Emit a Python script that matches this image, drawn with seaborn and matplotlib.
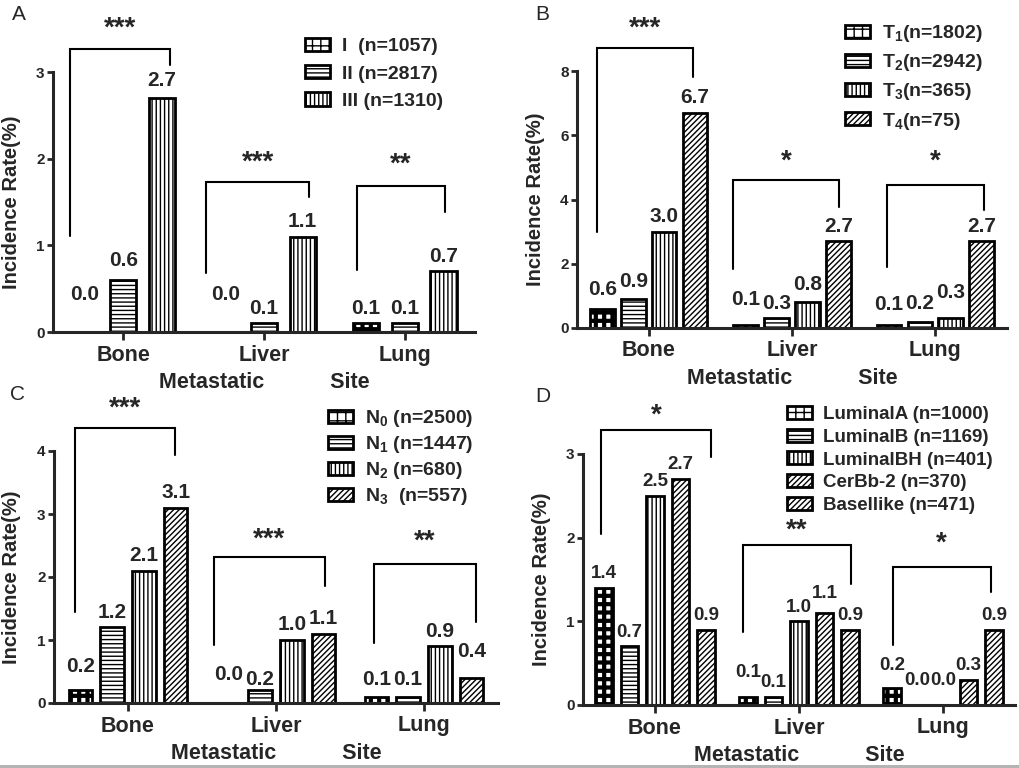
import matplotlib
matplotlib.use("Agg")
import matplotlib.pyplot as plt
import matplotlib.patches as mpatches
import seaborn as sns
import pandas as pd

# ---- data ----
sites = ["Bone", "Liver", "Lung"]

a_groups = ["I  (n=1057)", "II (n=2817)", "III (n=1310)"]
a_rates = {"Bone": [0.0, 0.6, 2.7], "Liver": [0.0, 0.1, 1.1], "Lung": [0.1, 0.1, 0.7]}
a_stars = ["***", "***", "**"]

b_groups = ["T$_1$(n=1802)", "T$_2$(n=2942)", "T$_3$(n=365)", "T$_4$(n=75)"]
b_rates = {"Bone": [0.6, 0.9, 3.0, 6.7], "Liver": [0.1, 0.3, 0.8, 2.7], "Lung": [0.1, 0.2, 0.3, 2.7]}
b_stars = ["***", "*", "*"]

c_groups = ["N$_0$ (n=2500)", "N$_1$ (n=1447)", "N$_2$ (n=680)", "N$_3$  (n=557)"]
c_rates = {"Bone": [0.2, 1.2, 2.1, 3.1], "Liver": [0.0, 0.2, 1.0, 1.1], "Lung": [0.1, 0.1, 0.9, 0.4]}
c_stars = ["***", "***", "**"]

d_groups = ["LuminalA (n=1000)", "LuminalB (n=1169)", "LuminalBH (n=401)",
            "CerBb-2 (n=370)", "Basellike (n=471)"]
d_rates = {"Bone": [1.4, 0.7, 2.5, 2.7, 0.9], "Liver": [0.1, 0.1, 1.0, 1.1, 0.9],
           "Lung": [0.2, 0.0, 0.0, 0.3, 0.9]}
d_stars = ["*", "**", "*"]

hatches = ["++", "----", "||||", "//////", "//////"]

W, H = 1019, 768

sns.set_style("ticks")
plt.rcParams["font.family"] = ["Liberation Sans", "DejaVu Sans"]
plt.rcParams["font.weight"] = "bold"
plt.rcParams["axes.labelweight"] = "bold"
plt.rcParams["mathtext.fontset"] = "custom"
plt.rcParams["mathtext.rm"] = "Liberation Sans:bold"
plt.rcParams["mathtext.bf"] = "Liberation Sans:bold"
plt.rcParams["mathtext.default"] = "bf"
plt.rcParams["hatch.linewidth"] = 1.0

fig = plt.figure(figsize=(W / 100, H / 100), dpi=100)


def px_rect(x0, x1, yb, yt):
    return [x0 / W, 1 - yb / H, (x1 - x0) / W, (yb - yt) / H]


def draw_panel(letter, groups, rates, stars, lay):
    ax = fig.add_axes(px_rect(*lay["rect"]))
    rows = []
    for s in sites:
        for g, v in zip(groups, rates[s]):
            rows.append({"site": s, "group": g, "rate": v})
    df = pd.DataFrame(rows)

    sns.barplot(data=df, x="site", y="rate", hue="group", order=sites, hue_order=groups,
                palette=["white"] * len(groups), edgecolor="black", linewidth=2,
                width=lay["width"], gap=lay["gap"], legend=False, ax=ax)

    # hatches + value labels (small per-label nudges mimic the original's hand placement)
    for i, cont in enumerate(ax.containers):
        for j, p in enumerate(cont.patches):
            p.set_hatch(hatches[i])
            if i == 0 and hasattr(p, "set_hatch_linewidth"):
                p.set_hatch_linewidth(3.0)
            h = p.get_height()
            off = 7 if h > 0 else lay["zero_off"]
            off += lay["nudge"].get((j, i), 0)
            ax.annotate(f"{h:.1f}", (p.get_x() + p.get_width() / 2, h),
                        xytext=(0, off), textcoords="offset points",
                        ha="center", va="baseline", fontsize=lay["vsize"],
                        fontweight="bold", annotation_clip=False)

    # significance brackets
    for k, (lo, ro, top, lb, rb, sy) in enumerate(lay["brackets"]):
        xl, xr = k + lo, k + ro
        ax.plot([xl, xl, xr, xr], [lb, top, top, rb], color="black", lw=1.5,
                clip_on=False, solid_joinstyle="miter")
        ax.annotate(stars[k], ((xl + xr) / 2, sy), xytext=(0, -11.5),
                    textcoords="offset points", ha="center", va="baseline",
                    fontsize=20, fontweight="bold", annotation_clip=False)

    ax.set_xlim(-0.5, 2.5)
    ax.set_ylim(0, lay["ytop"])
    ax.set_yticks(lay["yticks"])
    sns.despine(ax=ax)
    ax.spines["left"].set_bounds(0, lay["yticks"][-1])
    ax.spines["left"].set_linewidth(2.2)
    ax.spines["bottom"].set_linewidth(2.2)
    ax.tick_params(axis="y", length=4, width=2, labelsize=11, pad=2)
    ax.tick_params(axis="x", length=6, width=2, labelsize=15.5, pad=3)
    ax.set_ylabel("Incidence Rate(%)", fontsize=14.5)
    ax.yaxis.set_label_coords(-0.075, lay["yticks"][-1] / 2 / lay["ytop"])
    ax.set_xlabel("Metastatic           Site", fontsize=15.5, labelpad=5)

    lx, ly = lay["legend"]
    fs = lay["lsize"]
    ax.legend(ax.containers, groups, loc="upper left",
              bbox_to_anchor=(lx / W, 1 - ly / H), bbox_transform=fig.transFigure,
              frameon=False, borderpad=0, borderaxespad=0,
              handlelength=25 / (fs * 100 / 72), handleheight=13 / (fs * 100 / 72),
              handletextpad=0.6, labelspacing=lay["lspace"],
              prop={"size": fs, "weight": "bold"})

    fx, fy = lay["letter"]
    fig.text(fx / W, 1 - fy / H, letter, fontsize=15, fontweight="normal",
             ha="left", va="center")
    return ax


layouts = {
    "A": dict(rect=(53, 475, 332, 7), ytop=3.75, yticks=[0, 1, 2, 3], width=0.825, gap=0.32,
              brackets=[(-0.38, 0.33, 3.26, 1.11, 3.08, 3.6),
                        (-0.41, 0.32, 1.73, 0.68, 1.56, 2.06),
                        (-0.34, 0.29, 1.68, 0.72, 1.38, 2.04)],
              legend=(305, 38), lsize=14, lspace=0.5, letter=(12, 15),
              vsize=15, zero_off=23, nudge={(0, 1): 3, (0, 2): 2}),
    "B": dict(rect=(577, 1007, 328, 7), ytop=10, yticks=[0, 2, 4, 6, 8], width=0.86, gap=0.2,
              brackets=[(-0.36, 0.31, 8.72, 3.0, 7.82, 9.6),
                        (-0.41, 0.33, 4.6, 1.84, 3.77, 5.45),
                        (-0.34, 0.34, 4.45, 1.9, 3.68, 5.45)],
              legend=(845, 23), lsize=14, lspace=0.42, letter=(535, 15),
              vsize=15, zero_off=18,
              nudge={(0, 0): 3, (0, 1): 1.5, (1, 0): 7, (1, 2): 2, (2, 0): 4, (2, 1): 2,
                     (2, 2): 8}),
    "C": dict(rect=(54, 498, 703, 388), ytop=5.0, yticks=[0, 1, 2, 3, 4], width=0.86, gap=0.27,
              brackets=[(-0.36, 0.32, 4.37, 1.44, 3.94, 4.81),
                        (-0.42, 0.33, 2.32, 0.92, 1.86, 2.73),
                        (-0.34, 0.35, 2.2, 0.95, 1.29, 2.71)],
              legend=(328, 408), lsize=14, lspace=0.26, letter=(10, 394),
              vsize=15, zero_off=16.5,
              nudge={(0, 0): 6, (1, 1): -3, (2, 0): 1.5, (2, 1): 1.5, (2, 3): 8}),
    "D": dict(rect=(583, 1015, 705, 387), ytop=3.8, yticks=[0, 1, 2, 3], width=0.885, gap=0.33,
              brackets=[(-0.375, 0.39, 3.29, 2.04, 2.96, 3.56),
                        (-0.39, 0.36, 1.91, 0.87, 1.45, 2.19),
                        (-0.35, 0.33, 1.65, 0.72, 1.35, 2.03)],
              legend=(787, 406), lsize=13.5, lspace=0.3, letter=(535, 397),
              vsize=13.5, zero_off=14.5,
              nudge={(1, 0): 7, (1, 3): 4, (2, 0): 6.5}),
}

draw_panel("A", a_groups, a_rates, a_stars, layouts["A"])
draw_panel("B", b_groups, b_rates, b_stars, layouts["B"])
draw_panel("C", c_groups, c_rates, c_stars, layouts["C"])
draw_panel("D", d_groups, d_rates, d_stars, layouts["D"])

# thin grey strip along the bottom edge of the image
fig.patches.append(mpatches.Rectangle((0, 0), 1, 3 / H, transform=fig.transFigure,
                                      facecolor="#b4b4b4", edgecolor="none"))

fig.savefig("out.png", dpi=100)
